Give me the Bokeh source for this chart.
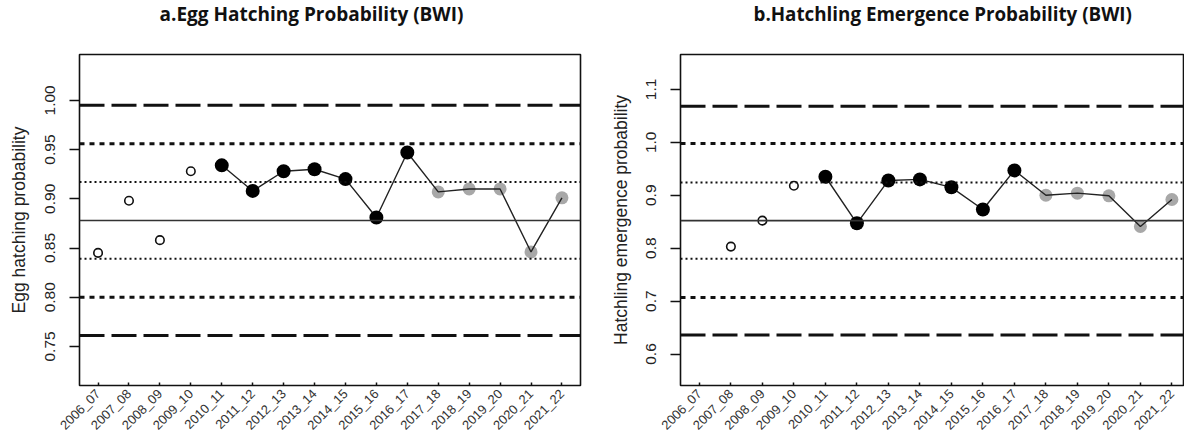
import math
from bokeh.plotting import figure
from bokeh.models import Range1d, FixedTicker, Span, Title
from bokeh.layouts import row
from bokeh.embed import file_html
from bokeh.resources import INLINE

# ---------------- data ----------------
seasons = ["2006_07", "2007_08", "2008_09", "2009_10", "2010_11", "2011_12",
           "2012_13", "2013_14", "2014_15", "2015_16", "2016_17", "2017_18",
           "2018_19", "2019_20", "2020_21", "2021_22"]

# a. Egg hatching probability
egg_early_seasons = ["2006_07", "2007_08", "2008_09", "2009_10"]
egg_early = [0.845, 0.898, 0.858, 0.928]
egg_model_seasons = ["2010_11", "2011_12", "2012_13", "2013_14", "2014_15", "2015_16", "2016_17"]
egg_model = [0.934, 0.908, 0.928, 0.930, 0.920, 0.881, 0.947]
egg_recent_seasons = ["2017_18", "2018_19", "2019_20", "2020_21", "2021_22"]
egg_recent = [0.907, 0.910, 0.910, 0.846, 0.901]
egg_mean = 0.878
egg_bands = [0.995, 0.956, 0.917, 0.839, 0.800, 0.761]   # +3sd,+2sd,+1sd,-1sd,-2sd,-3sd
egg_yticks = [0.75, 0.80, 0.85, 0.90, 0.95, 1.00]

# b. Hatchling emergence probability
hatch_early_seasons = ["2007_08", "2008_09", "2009_10"]
hatch_early = [0.803, 0.852, 0.918]
hatch_model_seasons = ["2010_11", "2011_12", "2012_13", "2013_14", "2014_15", "2015_16", "2016_17"]
hatch_model = [0.935, 0.847, 0.928, 0.930, 0.915, 0.873, 0.947]
hatch_recent_seasons = ["2017_18", "2018_19", "2019_20", "2020_21", "2021_22"]
hatch_recent = [0.900, 0.904, 0.899, 0.841, 0.892]
hatch_mean = 0.852
hatch_bands = [1.068, 0.998, 0.924, 0.780, 0.707, 0.636]
hatch_yticks = [0.6, 0.7, 0.8, 0.9, 1.0, 1.1]

band_styles = [
    dict(line_width=3, line_dash="25 7"),
    dict(line_width=3, line_dash="5 5"),
    dict(line_width=2, line_dash="2 3"),
    dict(line_width=2, line_dash="2 3"),
    dict(line_width=3, line_dash="5 5"),
    dict(line_width=3, line_dash="25 7"),
]

pos = {s: i + 1 for i, s in enumerate(seasons)}
FONT = "Liberation Sans"


def panel(title, ylabel, early_s, early, model_s, model, recent_s, recent,
          mean, bands, yticks, yfmt, yr, xend, width, height,
          bl, br, bt, bb, title_offset, title_size, ylab_standoff):
    p = figure(width=width, height=height, x_range=Range1d(0.4, xend),
               y_range=Range1d(*yr), output_backend="svg", toolbar_location=None,
               min_border_left=bl, min_border_right=br, min_border_top=bt,
               min_border_bottom=bb)
    p.grid.visible = False
    p.outline_line_color = "#111111"
    p.outline_line_width = 1.6
    p.background_fill_color = "white"
    p.border_fill_color = "white"

    # trailing empty line lifts the title towards the top of the page
    t = Title(text=title + "\n", align="left", offset=title_offset, vertical_align="top",
              text_font="Open Sans", text_font_size=title_size, text_font_style="bold",
              text_color="#111111", standoff=0)
    p.add_layout(t, "above")

    # reference lines
    p.add_layout(Span(location=mean, dimension="width", line_color="#333333", line_width=1.6))
    for v, st in zip(bands, band_styles):
        p.add_layout(Span(location=v, dimension="width", line_color="#111111", **st))

    # x axis
    xa = p.xaxis[0]
    xa.ticker = FixedTicker(ticks=[pos[s] for s in seasons])
    xa.major_label_overrides = {pos[s]: s for s in seasons}
    xa.major_label_orientation = math.pi / 4
    xa.major_label_text_font = FONT
    xa.major_label_text_font_size = "13px"
    xa.major_label_text_color = "#333333"
    xa.major_label_standoff = 6
    xa.major_tick_in = 3
    xa.major_tick_out = 0
    xa.major_tick_line_color = "#111111"
    xa.major_tick_line_width = 1.5
    xa.minor_tick_line_color = None
    xa.axis_line_color = None

    # y axis
    ya = p.yaxis[0]
    ya.ticker = FixedTicker(ticks=yticks)
    ya.major_label_overrides = {v: format(v, yfmt) for v in yticks}
    ya.major_label_orientation = "vertical"
    ya.major_label_text_font = FONT
    ya.major_label_text_font_size = "15.5px"
    ya.major_label_text_color = "#222222"
    ya.major_label_standoff = 14
    ya.major_tick_in = 0
    ya.major_tick_out = 10
    ya.major_tick_line_color = "#111111"
    ya.major_tick_line_width = 1.5
    ya.minor_tick_line_color = None
    ya.axis_line_color = None
    ya.axis_label = ylabel
    ya.axis_label_text_font = FONT
    ya.axis_label_text_font_size = "17.5px"
    ya.axis_label_text_font_style = "normal"
    ya.axis_label_text_color = "#222222"
    ya.axis_label_standoff = ylab_standoff

    # points
    p.scatter([pos[s] for s in early_s], early, marker="circle", size=8.5,
              fill_color=None, line_color="#111111", line_width=1.6)
    p.scatter([pos[s] for s in recent_s], recent, marker="circle", size=13,
              fill_color="#a8a8a8", line_color=None)
    p.line([pos[s] for s in model_s + recent_s], model + recent,
           line_color="#222222", line_width=1.4)
    p.scatter([pos[s] for s in model_s], model, marker="circle", size=14,
              fill_color="black", line_color=None)
    return p


pa = panel("a.Egg Hatching Probability (BWI)", "Egg hatching probability",
           egg_early_seasons, egg_early, egg_model_seasons, egg_model,
           egg_recent_seasons, egg_recent, egg_mean, egg_bands, egg_yticks, ".2f",
           (0.7103, 1.0466), 16.6, 600, 440, 79, 20, 51, 53, 80, "19px", 14)

pb = panel("b.Hatchling Emergence Probability (BWI)", "Hatchling emergence probability",
           hatch_early_seasons, hatch_early, hatch_model_seasons, hatch_model,
           hatch_recent_seasons, hatch_recent, hatch_mean, hatch_bands, hatch_yticks, ".1f",
           (0.5405, 1.166), 16.4, 584, 440, 80, 0, 47, 49, 73, "18.8px", 13)

layout = row(pa, pb, spacing=0)
open("out.html", "w").write(file_html(layout, INLINE))
